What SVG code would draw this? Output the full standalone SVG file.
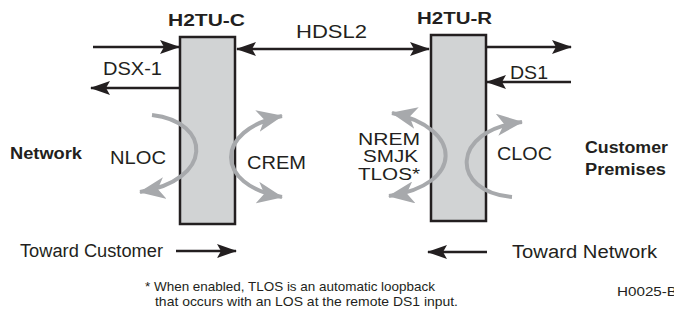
<svg xmlns="http://www.w3.org/2000/svg" width="674" height="320" viewBox="0 0 674 320">
<style>
text{font-family:"Liberation Sans",Arial,sans-serif;fill:#231f20}
.b{font-weight:bold;font-size:16px}
.m{font-size:18px}
.n{font-size:16px}
.s{font-size:13px}
.blk{stroke:#231f20;stroke-width:2.5;fill:none}
.gr{stroke:#a7a9ac;stroke-width:4;fill:none}
.box{fill:#d1d3d4;stroke:#231f20;stroke-width:2.5}
</style>
<defs>
<marker id="ab" viewBox="0 0 20 14" refX="19" refY="7" markerWidth="20" markerHeight="14" markerUnits="userSpaceOnUse" orient="auto-start-reverse">
<path d="M0,0 L20,7 L0,14 L4,7 z" fill="#231f20"/>
</marker>
<marker id="ag" viewBox="0 0 26 22" refX="25" refY="11" markerWidth="26" markerHeight="22" markerUnits="userSpaceOnUse" orient="auto-start-reverse">
<path d="M0,0 L26,11 L0,22 L7,11 z" fill="#a7a9ac"/>
</marker>
</defs>
<g id="connectors">
<line class="blk" x1="93" y1="47" x2="179" y2="47" marker-end="url(#ab)"/>
<line class="blk" x1="180" y1="88" x2="91" y2="88" marker-end="url(#ab)"/>
<line class="blk" x1="237" y1="49" x2="429" y2="49" marker-start="url(#ab)" marker-end="url(#ab)"/>
<line class="blk" x1="486" y1="47" x2="571" y2="47" marker-end="url(#ab)"/>
<line class="blk" x1="571" y1="82" x2="487" y2="82" marker-end="url(#ab)"/>
<line class="blk" x1="176" y1="251" x2="236" y2="251" marker-end="url(#ab)"/>
<line class="blk" x1="487" y1="252" x2="428" y2="252" marker-end="url(#ab)"/>
</g>
<g id="h2tu-c">
<rect class="box" x="180" y="37" width="55" height="187"/>
<text class="b" x="168" y="26" textLength="77" lengthAdjust="spacingAndGlyphs">H2TU-C</text>
</g>
<g id="h2tu-r">
<rect class="box" x="431" y="35" width="55" height="186"/>
<text class="b" x="417" y="24" textLength="75" lengthAdjust="spacingAndGlyphs">H2TU-R</text>
</g>
<g id="loops">
<path class="gr" d="M152,115 C212,122 214,180 140,192" marker-end="url(#ag)"/>
<path class="gr" d="M282,116 C214,130 214,185 282,197" marker-start="url(#ag)" marker-end="url(#ag)"/>
<path class="gr" d="M392,113 C464,128 464,185 389,196" marker-start="url(#ag)" marker-end="url(#ag)"/>
<path class="gr" d="M512,197 C450,192 450,130 522,122" marker-end="url(#ag)"/>
</g>
<g id="labels">
<text class="m" x="296" y="38" textLength="71" lengthAdjust="spacingAndGlyphs">HDSL2</text>
<text class="m" x="103" y="75" textLength="59" lengthAdjust="spacingAndGlyphs">DSX-1</text>
<text class="m" x="510" y="79" textLength="38" lengthAdjust="spacingAndGlyphs">DS1</text>
<text class="b" x="10" y="159" textLength="72" lengthAdjust="spacingAndGlyphs">Network</text>
<text class="m" x="110" y="164" textLength="56" lengthAdjust="spacingAndGlyphs">NLOC</text>
<text class="m" x="247" y="169" textLength="59" lengthAdjust="spacingAndGlyphs">CREM</text>
<text class="n" x="358" y="145" textLength="62" lengthAdjust="spacingAndGlyphs">NREM</text>
<text class="n" x="363" y="162" textLength="55" lengthAdjust="spacingAndGlyphs">SMJK</text>
<text class="n" x="358" y="180" textLength="62" lengthAdjust="spacingAndGlyphs">TLOS*</text>
<text class="m" x="497" y="160" textLength="55" lengthAdjust="spacingAndGlyphs">CLOC</text>
<text class="b" x="585" y="153" textLength="83" lengthAdjust="spacingAndGlyphs">Customer</text>
<text class="b" x="585" y="175" textLength="81" lengthAdjust="spacingAndGlyphs">Premises</text>
<text class="m" x="20" y="257" textLength="143" lengthAdjust="spacingAndGlyphs">Toward Customer</text>
<text class="m" x="512" y="258" textLength="145" lengthAdjust="spacingAndGlyphs">Toward Network</text>
<text class="s" x="145" y="291" textLength="290" lengthAdjust="spacingAndGlyphs">* When enabled, TLOS is an automatic loopback</text>
<text class="s" x="155" y="306" textLength="303" lengthAdjust="spacingAndGlyphs">that occurs with an LOS at the remote DS1 input.</text>
<text class="s" x="617" y="296" textLength="60" lengthAdjust="spacingAndGlyphs">H0025-B</text>
</g>
</svg>
